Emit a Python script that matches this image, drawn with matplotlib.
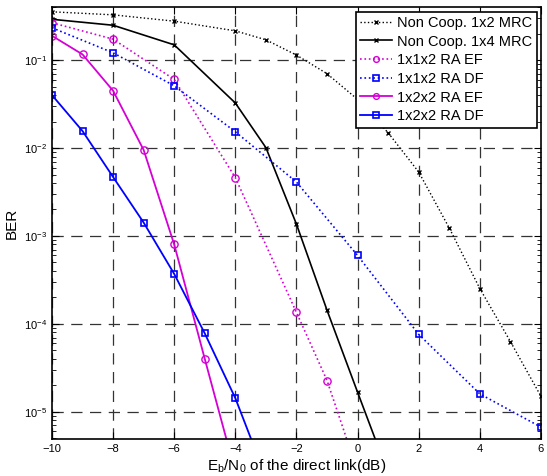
import matplotlib
matplotlib.use("Agg")
import matplotlib.pyplot as plt
import numpy as np
from matplotlib.ticker import LogLocator, NullFormatter, FixedLocator

plt.rcParams['font.family'] = ['Liberation Sans', 'DejaVu Sans']
plt.rcParams['mathtext.fontset'] = 'custom'
plt.rcParams['mathtext.rm'] = 'Liberation Sans'
plt.rcParams['mathtext.it'] = 'Liberation Sans'

# Non Coop. 1x2 MRC
x_mrc2 = [-10, -8, -6, -4, -3, -2, -1, 0, 1, 2, 3, 4, 5, 6]
y_mrc2 = [0.354, 0.327, 0.277, 0.215, 0.170, 0.114, 0.070, 0.0357, 0.0149,
          0.00533, 0.00123, 2.52e-4, 6.3e-5, 1.5e-5]
# Non Coop. 1x4 MRC
x_mrc4 = [-10, -8, -6, -4, -3, -2, -1, 0, 1]
y_mrc4 = [0.291, 0.249, 0.149, 0.0325, 0.0101, 0.00136, 1.43e-4, 1.67e-5, 2.0e-6]
# 1x1x2 RA EF
x_ef1 = [-10, -8, -6, -4, -2, -1, 0]
y_ef1 = [0.266, 0.173, 0.0603, 0.0046, 1.35e-4, 2.27e-5, 2.1e-6]
# 1x1x2 RA DF
x_df1 = [-10, -8, -6, -4, -2, 0, 2, 4, 6]
y_df1 = [0.233, 0.121, 0.051, 0.0153, 0.0041, 6.0e-4, 7.6e-5, 1.6e-5, 6.7e-6]
# 1x2x2 RA EF
x_ef2 = [-10, -9, -8, -7, -6, -5, -4]
y_ef2 = [0.189, 0.116, 0.0448, 0.0095, 8.0e-4, 4.0e-5, 2.06e-6]
# 1x2x2 RA DF
x_df2 = [-10, -9, -8, -7, -6, -5, -4, -3]
y_df2 = [0.040, 0.0156, 0.00468, 0.00142, 3.7e-4, 7.8e-5, 1.43e-5, 1.8e-6]

labels = ['Non Coop. 1x2 MRC', 'Non Coop. 1x4 MRC', '1x1x2 RA EF',
          '1x1x2 RA DF', '1x2x2 RA EF', '1x2x2 RA DF']

mag = '#D400D4'
blue = '#0000FF'

fig = plt.figure(figsize=(5.47, 4.76), dpi=100)
ax = fig.add_axes([0.095, 0.078, 0.894, 0.907])

ax.semilogy(x_mrc2, y_mrc2, color='k', ls=':', marker='x', ms=3.2, mew=1.0, lw=1.0, label=labels[0])
ax.semilogy(x_mrc4, y_mrc4, color='k', ls='-', marker='x', ms=3.2, mew=1.0, lw=1.2, label=labels[1])
ax.semilogy(x_ef1, y_ef1, color=mag, ls=':', marker='o', ms=5.2, mfc='none', mew=1.0, lw=1.2, label=labels[2])
ax.semilogy(x_df1, y_df1, color=blue, ls=':', marker='s', ms=5.0, mfc='none', mew=1.2, lw=1.2, label=labels[3])
ax.semilogy(x_ef2, y_ef2, color=mag, ls='-', marker='o', ms=5.2, mfc='none', mew=1.0, lw=1.3, label=labels[4])
ax.semilogy(x_df2, y_df2, color=blue, ls='-', marker='s', ms=5.0, mfc='none', mew=1.2, lw=1.3, label=labels[5])

ax.set_xlim(-10, 6)
ax.set_ylim(4.93e-6, 0.4)
ax.xaxis.set_major_locator(FixedLocator(np.arange(-10, 7, 2)))
ax.yaxis.set_major_locator(LogLocator(base=10, numticks=20))
ax.yaxis.set_minor_locator(LogLocator(base=10, subs=np.arange(2, 10), numticks=50))
ax.yaxis.set_minor_formatter(NullFormatter())

ax.grid(True, which='major', color='#333333', ls=(0, (9, 6)), lw=0.9)
ax.tick_params(which='both', direction='in', top=True, right=True, labelsize=8)
ax.tick_params(which='major', length=5)
ax.tick_params(which='minor', length=3)
for s in ax.spines.values():
    s.set_linewidth(1.2)

ax.set_xlabel(r'E$_\mathregular{b}$/N$_\mathregular{0}$ of the direct link(dB)', fontsize=11, labelpad=2)
ax.set_ylabel('BER', fontsize=11, labelpad=4)

leg = ax.legend(loc='upper right', fontsize=10.5, frameon=True, fancybox=False,
                edgecolor='k', framealpha=1, borderaxespad=0.3, handlelength=2.2,
                handletextpad=0.35, labelspacing=0.32, borderpad=0.3, markerscale=0.8)
leg.get_frame().set_linewidth(1.2)

fig.savefig('out.png', dpi=100)
